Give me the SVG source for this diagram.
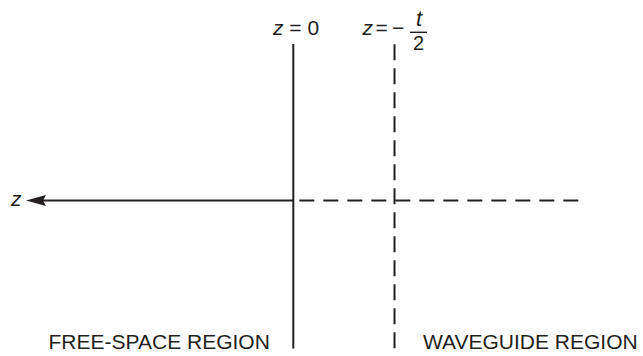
<svg xmlns="http://www.w3.org/2000/svg" width="643" height="356" viewBox="0 0 643 356">
<style>
.ln{stroke:#231f20;stroke-width:2;fill:none}
.dh{stroke-dasharray:15 9}
.dv{stroke-dasharray:16 8}
.t{font-family:"Liberation Sans",Arial,sans-serif;fill:#231f20}
.i{font-style:italic}
</style>
<rect width="643" height="356" fill="#ffffff"/>
<g id="free-space-boundary">
<line class="ln" x1="293.3" y1="44" x2="293.3" y2="348.5"/>
<text class="t" x="273" y="35" font-size="21"><tspan class="i">z</tspan> = 0</text>
</g>
<g id="waveguide-boundary">
<line class="ln dv" x1="394.5" y1="44.3" x2="394.5" y2="348.5"/>
<text class="t i" x="362.5" y="35" font-size="21">z</text>
<text class="t" x="375.5" y="35" font-size="21">=</text>
<text class="t" x="392" y="35" font-size="21">−</text>
<line x1="410" y1="32.3" x2="427" y2="32.3" stroke="#231f20" stroke-width="1.4"/>
<text class="t i" x="419" y="26" font-size="22" text-anchor="middle">t</text>
<text class="t" x="418.5" y="49.5" font-size="20" text-anchor="middle">2</text>
</g>
<g id="connectors">
<line class="ln" x1="42" y1="200.5" x2="293.3" y2="200.5"/>
<polygon points="26,200.5 46,195 43,200.5 46,206" fill="#231f20"/>
<line class="ln dh" x1="299.3" y1="200.5" x2="580" y2="200.5"/>
</g>
<g id="axis-label">
<text class="t i" x="11" y="206" font-size="21">z</text>
</g>
<g id="regions">
<text class="t" x="48.5" y="349" font-size="21">FREE-SPACE REGION</text>
<text class="t" x="423" y="349" font-size="21">WAVEGUIDE REGION</text>
</g>
</svg>
